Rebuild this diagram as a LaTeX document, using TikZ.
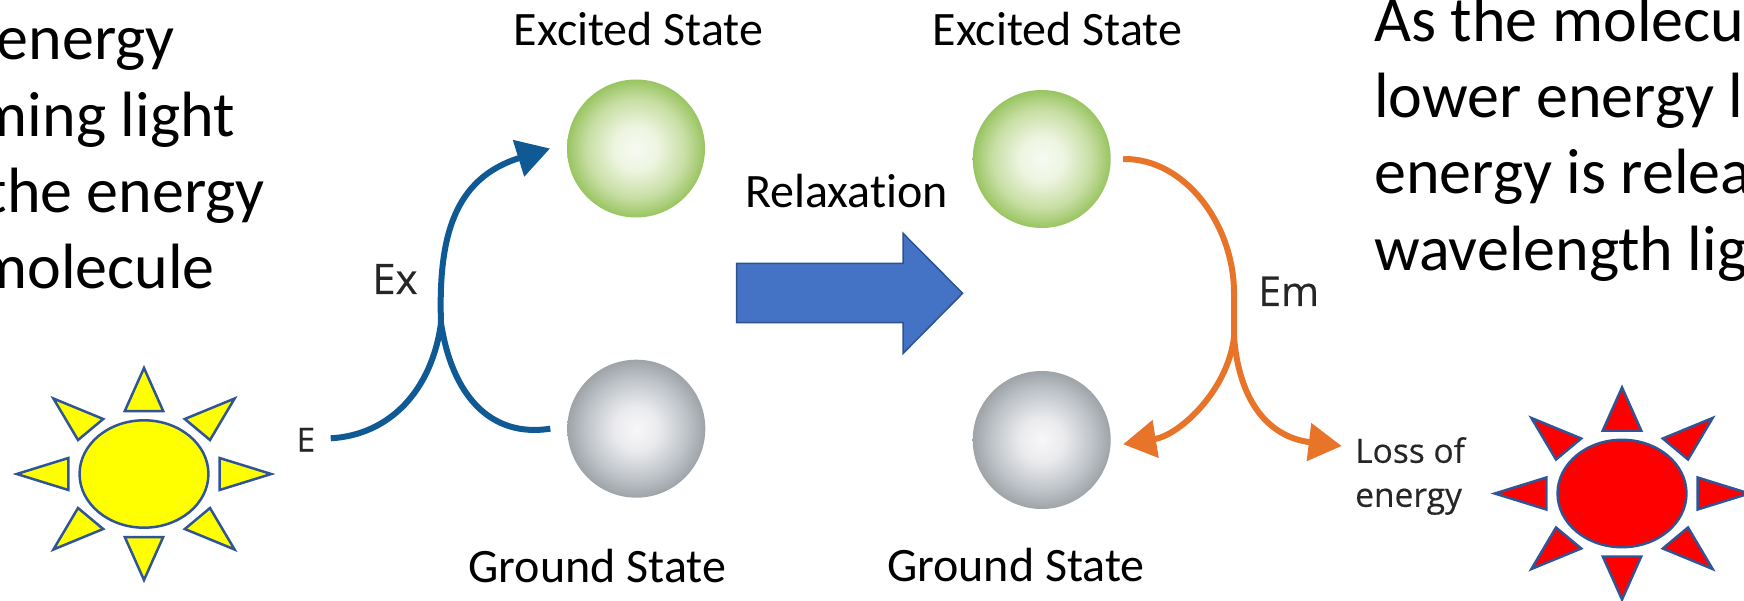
\documentclass[tikz,border=0pt]{standalone}
\usepackage{fontspec}
\usepackage{xcolor}
\setmainfont{Carlito}[Ligatures=NoCommon]
\newfontfamily\imgfont[FakeBold=0.35]{Open Sans}
\usetikzlibrary{arrows.meta,positioning}

\definecolor{excurve}{HTML}{0F5A94}
\definecolor{emcurve}{HTML}{E8742A}
\definecolor{officeblue}{HTML}{4472C4}
\definecolor{officeedge}{HTML}{2F528F}
\definecolor{sunedge}{HTML}{2F5597}
\definecolor{sunyellow}{HTML}{FFFF00}
\definecolor{sunred}{HTML}{FF0000}
\definecolor{imgtext}{HTML}{262626}

\pgfdeclareradialshading{greenshade}{\pgfpoint{0bp}{0bp}}{rgb(0bp)=(0.97,0.98,0.95);rgb(8bp)=(0.93,0.96,0.88);rgb(18bp)=(0.78,0.87,0.64);rgb(25bp)=(0.60,0.77,0.38);rgb(50bp)=(0.60,0.77,0.38)}
\pgfdeclareradialshading{greyshade}{\pgfpoint{0bp}{0bp}}{rgb(0bp)=(0.97,0.97,0.98);rgb(8bp)=(0.92,0.92,0.93);rgb(18bp)=(0.75,0.77,0.79);rgb(25bp)=(0.62,0.64,0.66);rgb(50bp)=(0.62,0.64,0.66)}

\tikzset{
  paratext/.style={inner sep=0pt,font=\fontsize{64}{73}\selectfont},
  statetext/.style={inner sep=0pt,anchor=base,font=\fontsize{48}{56}\selectfont},
  imgtext/.style={inner sep=0pt,text=imgtext,font=\imgfont\fontsize{#1}{44}\selectfont},
  ball/.style={circle,minimum size=138pt,inner sep=0pt,shade,shading=#1},
  excurveline/.style={excurve,line width=6pt},
  emcurveline/.style={emcurve,line width=6pt},
  pics/sunburst/.style={code={
    \begin{scope}[xscale=1.2,draw=sunedge,line width=2.5pt,fill=#1,line join=miter]
      \filldraw (0,0) circle[radius=53.7pt];
      \foreach \a in {0,90,180,270} {
        \filldraw[rotate=\a] (-16,-63) -- (0,-106) -- (16,-63) -- cycle;
        \filldraw[rotate=\a] (75.5,-75.5) -- (34,-55) -- (55,-34) -- cycle;
      }
    \end{scope}
  }}
}

\begin{document}
\begin{tikzpicture}[x=1pt,y=-1pt,>={Triangle[length=33pt,width=37pt]}]
  \useasboundingbox (0,0) rectangle (1744,601);

  \foreach \txt/\xe/\ye [count=\i] in {energy/175/59.5,ming light/235/136.5,the energy/265/212.5,molecule/215/289}
    \node[paratext,anchor=base east] (lefttext\i) at (\xe,\ye) {\txt};
  \foreach \txt/\ye [count=\i] in {As the molecu/41.5,lower energy l/118,energy is relea/194,wavelength lig/271}
    \node[paratext,anchor=base west] (righttext\i) at (1374,\ye) {\txt};

  \node[statetext] (excalabel) at (638.7,46) {Excited State};
  \node[statetext] (excblabel) at (1057.5,46) {Excited State};
  \node[statetext] (grdalabel) at (597.5,582.5) {Ground State};
  \node[statetext] (grdblabel) at (1016,581) {Ground State};
  \node[statetext] (relaxlabel) at (846.5,208) {Relaxation};

  \node[ball=greenshade,outer sep=17pt] (exca) at (636,148.5) {};
  \node[ball=greyshade,outer sep=17pt] (grda) at (636.3,428.7) {};
  \node[ball=greenshade,outer sep=12.5pt] (excb) at (1041.7,159) {};
  \node[ball=greyshade,outer sep=12.5pt] (grdb) at (1041.7,440) {};

  \node[imgtext=33,anchor=base west] (elabel) at (296.5,451.5) {E};
  \node[imgtext=42,anchor=base west] (exlabel) at (372,294) {Ex};
  \node[imgtext=41,anchor=base west] (emlabel) at (1258,306) {Em};
  \node[imgtext=33.5,anchor=west,align=left] (losslabel) at (1355,476) {Loss of\\energy};

  \coordinate (estart) at (330.7,438.3);
  \coordinate (exsplit) at (441,323);
  \coordinate (emsplit) at (1234,337);
  \coordinate (lossend) at (1341.7,446);

  \draw[excurveline] (estart) .. controls (390,435) and (432,390) .. (exsplit);
  \draw[excurveline] (grda.west) .. controls (490,438) and (452,395) .. (exsplit);
  \draw[excurveline,->] (exsplit) .. controls (438,235) and (455,178) .. (exca.west);

  \draw[emcurveline] (excb.east) .. controls (1185,158) and (1234,225) .. (1234,293) -- (emsplit);
  \draw[emcurveline,->] (emsplit) .. controls (1228,390) and (1180,435) .. (grdb.-3);
  \draw[emcurveline,->] (emsplit) .. controls (1240,410) and (1275,438) .. (lossend);

  \filldraw[fill=officeblue,draw=officeedge,line width=1.5pt] (736.6,263.3) -- (903,263.3) -- (903,233.3) -- (962.6,293.3) -- (903,353.5) -- (903,322.7) -- (736.6,322.7) -- cycle;

  \pic (sunleft) at (144,474) {sunburst=sunyellow};
  \pic (sunright) at (1622,493.5) {sunburst=sunred};
\end{tikzpicture}
\end{document}
